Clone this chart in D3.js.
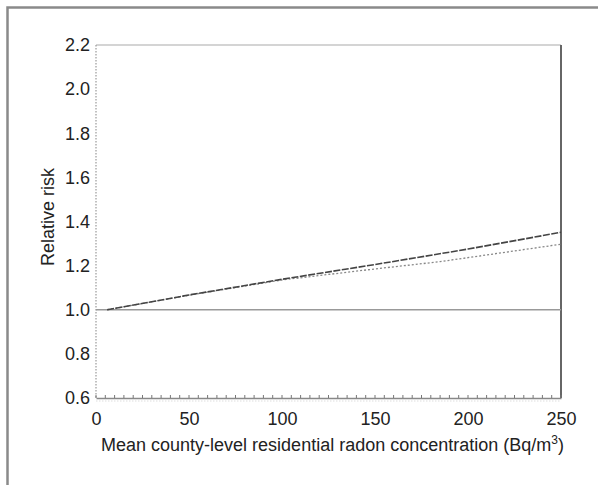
<!DOCTYPE html>
<html><head><meta charset="utf-8">
<script src="https://cdn.jsdelivr.net/npm/d3@7"></script>
<style>body{margin:0;background:#fff;}svg{display:block;font-family:"Liberation Sans",Arial,sans-serif;}</style>
</head><body>
<script>
const radon = [6, 50, 100, 150, 200, 250];
const rrSolid = [1.0, 1.067, 1.138, 1.205, 1.275, 1.351];
const radonDotted = [6, 50, 100, 150, 185, 250];
const rrDotted = [1.0, 1.066, 1.135, 1.185, 1.218, 1.297];
const xTicks = [0, 50, 100, 150, 200, 250];
const yTicks = [0.6, 0.8, 1.0, 1.2, 1.4, 1.6, 1.8, 2.0, 2.2];

const W = 598, H = 485;
const svg = d3.select("body").append("svg").attr("width", W).attr("height", H);

// outer frame
svg.append("path").attr("d", `M7.5,${H} V7.5 H${W}`).attr("fill","none").attr("stroke","#8a8a8a").attr("stroke-width",2.5);

const L = 96, R = 561, T = 45, B = 398;
const x = d3.scaleLinear().domain([0, 250]).range([L, R]);
const y = d3.scaleLinear().domain([0.6, 2.2]).range([B, T]);
const FS = 18;

// plot borders
svg.append("line").attr("x1",L).attr("x2",R).attr("y1",T).attr("y2",T).attr("stroke","#aaa").attr("stroke-width",1.2);
svg.append("line").attr("x1",R).attr("x2",R).attr("y1",T).attr("y2",B).attr("stroke","#666").attr("stroke-width",2);
svg.append("line").attr("x1",L).attr("x2",L).attr("y1",T).attr("y2",B).attr("stroke","#999").attr("stroke-width",1.2).attr("stroke-dasharray","1.5,1.5");

// bottom axis
const xAxis = d3.axisBottom(x).tickValues(xTicks).tickSize(0).tickPadding(14).tickFormat(d3.format("d"));
const gx = svg.append("g").attr("transform",`translate(0,${B})`).call(xAxis);
gx.select(".domain").attr("stroke","#888").attr("stroke-width",1.5);
gx.selectAll("text").attr("font-size",FS).attr("fill","#222").attr("font-family","'Liberation Sans',Arial,sans-serif");
const minor = d3.range(0, 251, 5);
svg.append("g").selectAll("line").data(minor).join("line")
  .attr("x1", d => x(d)).attr("x2", d => x(d)).attr("y1", B).attr("y2", B - 3)
  .attr("stroke","#777").attr("stroke-width",1);
svg.append("line").attr("x1",L).attr("x2",R).attr("y1",B+3).attr("y2",B+3).attr("stroke","#ddd").attr("stroke-width",1).attr("stroke-dasharray","1.5,1.5");

// left axis labels
const yAxis = d3.axisLeft(y).tickValues(yTicks).tickSize(0).tickPadding(6).tickFormat(d3.format(".1f"));
const gy = svg.append("g").attr("transform",`translate(${L},0)`).call(yAxis);
gy.select(".domain").remove();
gy.selectAll("text").attr("font-size",FS).attr("fill","#222").attr("font-family","'Liberation Sans',Arial,sans-serif");

// reference line at 1.0
svg.append("line").attr("x1",L).attr("x2",R).attr("y1",y(1.0)).attr("y2",y(1.0)).attr("stroke","#999").attr("stroke-width",1.5);

const line = d3.line().x(d => x(d[0])).y(d => y(d[1]));
svg.append("path").datum(radonDotted.map((d,i)=>[d, rrDotted[i]]))
  .attr("d", line).attr("fill","none").attr("stroke","#888").attr("stroke-width",1.3).attr("stroke-dasharray","2,2");
svg.append("path").datum(radon.map((d,i)=>[d, rrSolid[i]]))
  .attr("d", line).attr("fill","none").attr("stroke","#444").attr("stroke-width",1.6).attr("stroke-dasharray","7,1.5");

// titles
const xt = svg.append("text").attr("x",(L+R)/2+4).attr("y",451).attr("text-anchor","middle")
  .attr("font-size",FS).attr("fill","#222");
xt.append("tspan").text("Mean county-level residential radon concentration (Bq/m");
xt.append("tspan").attr("font-size",12).attr("dy",-7).text("3");
xt.append("tspan").attr("dy",7).text(")");

svg.append("text").attr("transform","translate(54,217) rotate(-90)").attr("text-anchor","middle")
  .attr("font-size",FS).attr("fill","#222").text("Relative risk");
</script>
</body></html>
